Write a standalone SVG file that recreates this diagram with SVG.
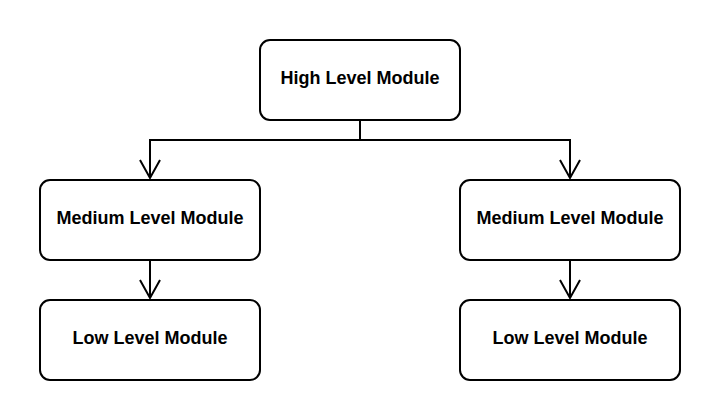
<svg xmlns="http://www.w3.org/2000/svg" width="720" height="420" viewBox="0 0 720 420">
<style>
.box{fill:#fff;stroke:#000;stroke-width:2}
.lbl{font-family:"Liberation Sans",Arial,sans-serif;font-weight:bold;font-size:18px;fill:#000;text-anchor:middle}
.edge{fill:none;stroke:#000;stroke-width:2}
</style>
<defs>
<marker id="arr" markerWidth="24" markerHeight="24" refX="19" refY="11" orient="auto" markerUnits="userSpaceOnUse" viewBox="0 0 24 24">
<path d="M1,1 L19,11 L1,21" fill="none" stroke="#000" stroke-width="2"/>
</marker>
</defs>
<rect width="720" height="420" fill="#fff"/>
<g id="connectors">
<path class="edge" d="M360,120 V140 H150 V178" marker-end="url(#arr)"/>
<path class="edge" d="M360,140 H570 V178" marker-end="url(#arr)"/>
<path class="edge" d="M150,260 V298" marker-end="url(#arr)"/>
<path class="edge" d="M570,260 V298" marker-end="url(#arr)"/>
</g>
<g id="high"><rect class="box" x="260" y="40" width="200" height="80" rx="10"/><text class="lbl" x="360" y="84">High Level Module</text></g>
<g id="medium-left"><rect class="box" x="40" y="180" width="220" height="80" rx="10"/><text class="lbl" x="150" y="224">Medium Level Module</text></g>
<g id="medium-right"><rect class="box" x="460" y="180" width="220" height="80" rx="10"/><text class="lbl" x="570" y="224">Medium Level Module</text></g>
<g id="low-left"><rect class="box" x="40" y="300" width="220" height="80" rx="10"/><text class="lbl" x="150" y="344">Low Level Module</text></g>
<g id="low-right"><rect class="box" x="460" y="300" width="220" height="80" rx="10"/><text class="lbl" x="570" y="344">Low Level Module</text></g>
</svg>
